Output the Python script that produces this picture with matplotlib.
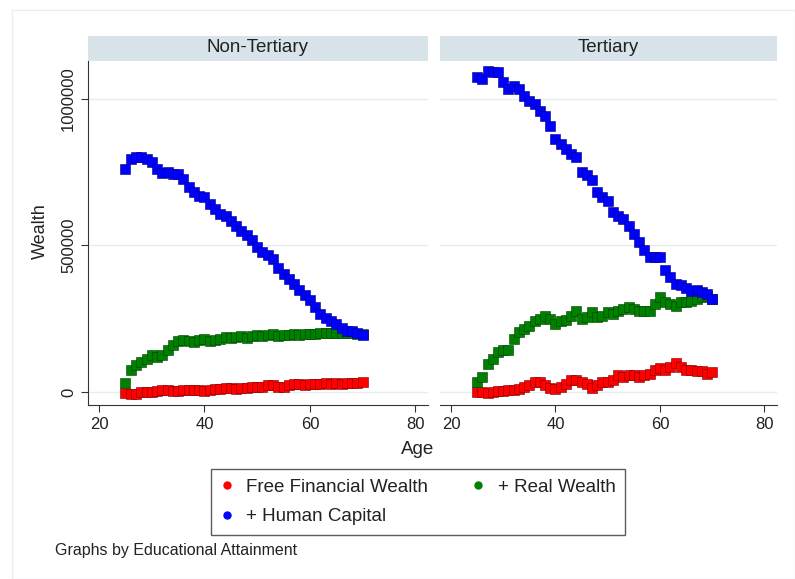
import matplotlib
matplotlib.use('Agg')
import numpy as np
import matplotlib.pyplot as plt
from matplotlib.patches import Rectangle
from matplotlib.lines import Line2D

plt.rcParams['font.family'] = ['Liberation Sans', 'DejaVu Sans']

age = np.arange(25, 71)

# Non-Tertiary
nt_free = [-3, -8, -6, 0, 0, 2, 3, 6, 6, 3, 3, 6, 6, 8, 8, 3, 8, 11, 11, 15,
           15, 11, 15, 15, 17, 17, 19, 23, 23, 19, 19, 23, 26, 26, 23, 26, 28, 26, 31, 28,
           31, 28, 31, 31, 31, 33]
nt_real = [31, 74, 91, 102, 114, 125, 119, 125, 142, 159, 174, 178, 174, 170, 178, 182, 174, 178, 182, 188,
           185, 188, 190, 185, 190, 193, 190, 193, 199, 190, 193, 193, 197, 193, 197, 197, 199, 201, 201, 203,
           203, 203, 203, 201, 199, 197]
nt_human = [761, 795, 803, 801, 795, 784, 761, 747, 750, 742, 742, 727, 699, 682, 670, 665, 642, 625, 608, 602,
            585, 568, 551, 534, 517, 494, 477, 466, 455, 424, 403, 386, 369, 347, 330, 313, 290, 267, 253, 242,
            231, 218, 210, 207, 201, 193]

# Tertiary
t_free = [0, 0, -3, 0, 3, 3, 6, 8, 11, 17, 23, 34, 34, 23, 15, 11, 19, 28, 40, 42,
          34, 26, 15, 23, 34, 34, 40, 57, 51, 57, 57, 51, 57, 62, 74, 83, 76, 87, 99, 85,
          76, 74, 72, 72, 62, 68]
t_real = [34, 51, 97, 114, 136, 142, 144, 182, 205, 216, 227, 244, 250, 258, 250, 233, 242, 247, 258, 278,
          250, 256, 273, 256, 261, 273, 267, 278, 284, 290, 284, 278, 278, 278, 301, 324, 307, 301, 295, 307,
          307, 312, 318, 324, 326, 318]
t_human = [1074, 1068, 1094, 1091, 1091, 1057, 1034, 1045, 1034, 1011, 994, 983, 960, 940, 909, 864, 847, 830, 813, 803,
           750, 739, 724, 682, 665, 653, 614, 602, 591, 568, 540, 511, 483, 460, 460, 460, 415, 394, 369, 364,
           356, 344, 347, 341, 333, 318]

panels = ['Non-Tertiary', 'Tertiary']
series_names = ['Free Financial Wealth', '+ Real Wealth', '+ Human Capital']
colors = ['#ff0000', '#008000', '#0000ff']
edges = ['#7a0000', '#003d00', '#00007a']
data = [[nt_free, nt_real, nt_human], [t_free, t_real, t_human]]

fig = plt.figure(figsize=(7.95, 5.79), dpi=100)
W, H = 795.0, 579.0

# light outer frame
fig.patches.append(Rectangle((12 / W, 0), 1 - 12 / W, 1 - 10 / H, transform=fig.transFigure,
                             fill=False, edgecolor='#e9eef1', lw=1.0))

lefts = [88, 440]
rights = [428, 777]
top, bottom = 61, 405
for i in range(2):
    ax = fig.add_axes([lefts[i] / W, 1 - bottom / H, (rights[i] - lefts[i]) / W, (bottom - top) / H])
    for k in range(3):
        ax.plot(age, np.array(data[i][k]) * 1000, ls='none', marker='s', markersize=6.5,
                markerfacecolor=colors[k], markeredgecolor=edges[k], markeredgewidth=0.4, zorder=3)
    ax.set_xlim(17.9, 82.4)
    ax.set_ylim(-44000, 1129000)
    ax.set_xticks([20, 40, 60, 80])
    ax.set_yticks([0, 500000, 1000000])
    ax.grid(axis='y', color='#e6edf0', lw=1.0, zorder=0)
    ax.set_axisbelow(True)
    for s in ['top', 'right']:
        ax.spines[s].set_visible(False)
    ax.spines['bottom'].set_color('#333333')
    ax.spines['left'].set_color('#333333')
    ax.tick_params(axis='both', labelsize=12, color='#333333', length=5, labelcolor='#222222')
    if i == 0:
        ax.set_yticklabels(['0', '500000', '1000000'], rotation=90, va='center')
    else:
        ax.spines['left'].set_visible(False)
        ax.tick_params(axis='y', left=False, labelleft=False)
    # strip header
    fig.patches.append(Rectangle((lefts[i] / W, 1 - top / H), (rights[i] - lefts[i]) / W, 25 / H,
                                 transform=fig.transFigure, facecolor='#d9e4ea', edgecolor='none'))
    fig.text((lefts[i] + rights[i]) / 2 / W, 1 - 47 / H, panels[i], ha='center', va='center',
             fontsize=13.5, color='#222222')

fig.text(40 / W, 1 - 231 / H, 'Wealth', rotation=90, ha='center', va='center', fontsize=13, color='#222222')
fig.text(418 / W, 1 - 450 / H, 'Age', ha='center', va='center', fontsize=13.5, color='#222222')

handles = [Line2D([], [], ls='none', marker='o', markersize=5, markerfacecolor=c, markeredgecolor=c)
           for c in colors]
order = [0, 2, 1]
leg = fig.legend([handles[j] for j in order], [series_names[j] for j in order], ncol=2, loc='center',
                 bbox_to_anchor=(418 / W, 1 - 502 / H),
                 fontsize=13.5, frameon=True, fancybox=False, edgecolor='#333333', handlelength=0.7,
                 handletextpad=0.7, columnspacing=2.3, labelspacing=0.65, borderpad=0.5)
leg.get_frame().set_linewidth(1.0)
for t in leg.get_texts():
    t.set_color('#222222')

fig.text(55 / W, 1 - 550 / H, 'Graphs by Educational Attainment', ha='left', va='center',
         fontsize=11.5, color='#222222')

fig.savefig('out.png', dpi=100)
